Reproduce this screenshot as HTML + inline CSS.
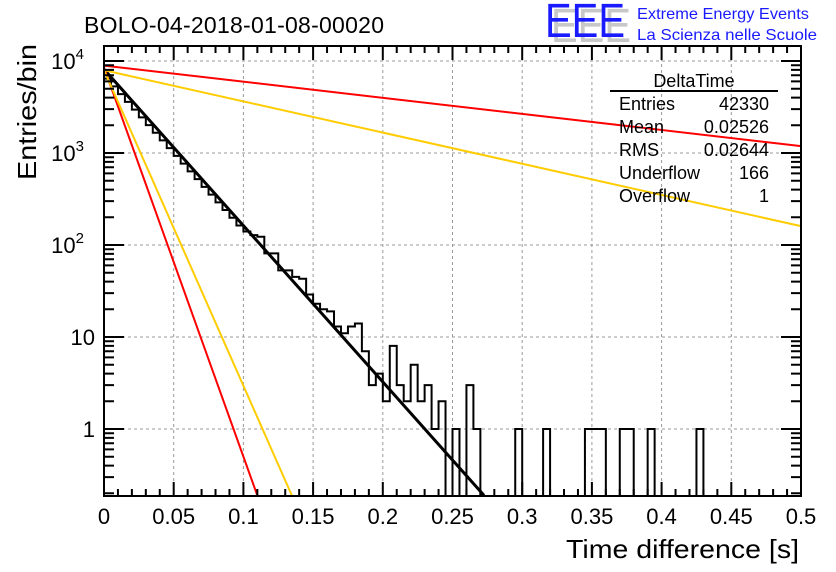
<!DOCTYPE html>
<html><head><meta charset="utf-8"><style>
body{margin:0;background:#fff;}
svg{display:block;font-family:"Liberation Sans",sans-serif;}
</style></head><body>
<svg id="c" width="836" height="572" viewBox="0 0 836 572">
<rect width="836" height="572" fill="#fff"/>
<text x="84" y="33" font-size="23" fill="#000" textLength="300">BOLO-04-2018-01-08-00020</text>
<g>
<text x="551" y="42" font-size="48" fill="#c8c8c8" textLength="80" lengthAdjust="spacingAndGlyphs">EEE</text>
<text x="545" y="37" font-size="48" fill="#1a1aff" textLength="80" lengthAdjust="spacingAndGlyphs">EEE</text>
<text x="637" y="19" font-size="16" fill="#1a1aff" textLength="172" lengthAdjust="spacingAndGlyphs">Extreme Energy Events</text>
<text x="637" y="40" font-size="16" fill="#1a1aff" textLength="180" lengthAdjust="spacingAndGlyphs">La Scienza nelle Scuole</text>
</g>
<g id="grid"></g>
<g id="hist"></g>
<g id="fits"></g>
<g id="axes"></g>
<g font-size="18">
<text x="694" y="87" text-anchor="middle">DeltaTime</text>
<line x1="610" y1="91" x2="778" y2="91" stroke="#000" stroke-width="2"/>
<text x="619" y="110">Entries</text><text x="769" y="110" text-anchor="end">42330</text>
<text x="619" y="133">Mean</text><text x="769" y="133" text-anchor="end">0.02526</text>
<text x="619" y="156">RMS</text><text x="769" y="156" text-anchor="end">0.02644</text>
<text x="619" y="179">Underflow</text><text x="769" y="179" text-anchor="end">166</text>
<text x="619" y="202">Overflow</text><text x="769" y="202" text-anchor="end">1</text>
</g>
<text x="566" y="558" font-size="26" textLength="233" lengthAdjust="spacingAndGlyphs">Time difference [s]</text>
<text transform="translate(36,180) rotate(-90)" font-size="26" textLength="136" lengthAdjust="spacingAndGlyphs">Entries/bin</text>
</svg>
<script>
const binWidth = 0.005;
const counts = [6430,5300,4365,3600,2965,2440,2010,1660,1370,1130,930,766,631,520,429,353,291,240,198,163,140,128,123,81,81,53,53,45,43,29,23,20,19,13,11,13,14,7,3,4,2,8,3,2,5,2,3,1,2,0,1,0,3,1,0,0,0,0,0,1,0,0,0,1,0,0,0,0,0,1,1,1,0,0,1,1,0,0,1,0,0,0,0,0,0,1,0,0,0,0,0,0,0,0,0,0,0,0,0,0];
const fitNames = ['fit-black','fit-red-steep','fit-yellow-steep','fit-red-shallow','fit-yellow-shallow'];
const fitLog0 = [3.91,3.93,3.90,3.95,3.90];
const fitSlope = [-16.99,-42.3,-34.3,-1.75,-3.39];
const fitColor = ['#000','#ff0000','#ffcc00','#ff0000','#ffcc00'];
const xTicks = [0,0.05,0.1,0.15,0.2,0.25,0.3,0.35,0.4,0.45,0.5];
const xTickLabels = ['0','0.05','0.1','0.15','0.2','0.25','0.3','0.35','0.4','0.45','0.5'];
const yDecades = [0,1,2,3,4];

const L=104,R=801,T=46,B=496;
const X=v=>L+(v/0.5)*(R-L);
const yLog1=429, pxDec=92;
const Ylog=l=>yLog1-l*pxDec;
const Y=v=>Ylog(Math.log10(v));
const NS='http://www.w3.org/2000/svg';
function mk(tag,attrs,parent){const e=document.createElementNS(NS,tag);for(const k in attrs)e.setAttribute(k,attrs[k]);parent.appendChild(e);return e;}
const grid=document.getElementById('grid'),axes=document.getElementById('axes'),fits=document.getElementById('fits'),hist=document.getElementById('hist');

xTicks.forEach((t,i)=>{
  if(i>0&&i<xTicks.length-1){const g=mk('line',{x1:X(t),x2:X(t),y1:T,y2:B,stroke:'#999','stroke-dasharray':'3,3'},grid);
  
  }
  const lb=mk('text',{x:X(t),y:524,'font-size':22,'text-anchor':'middle'},axes);lb.textContent=xTickLabels[i];
  
  
});
yDecades.forEach(d=>{
  const y=Ylog(d);
  const g=mk('line',{x1:L,x2:R,y1:y,y2:y,stroke:'#999','stroke-dasharray':'3,3'},grid);
  
  
  const lb=mk('text',{x:d>=2?84:95,y:y+8,'font-size':22,'text-anchor':'end'},axes);
  
  
  if(d<2) lb.textContent=String(Math.pow(10,d));
  else {lb.textContent='10';const s=mk('tspan',{dy:-10,'font-size':15},lb);s.textContent=String(d);}
});
let d='';
counts.forEach((c,i)=>{
  const y=c>0?Math.min(B,Y(c)):B;
  const x0=X(i*binWidth),x1=X((i+1)*binWidth);
  d+=(i===0?`M${x0},${y}`:`L${x0},${y}`)+`L${x1},${y}`;
});
const hp=mk('path',{d:d,fill:'none',stroke:'#000','stroke-width':2},hist);


fitNames.forEach((n,i)=>{
  const xEnd=Math.min(0.5,(Math.log10(0.19)-fitLog0[i])/fitSlope[i]);
  const ln=mk('line',{x1:X(0),y1:Ylog(fitLog0[i]),x2:X(xEnd),y2:Ylog(fitLog0[i]+fitSlope[i]*xEnd),stroke:fitColor[i],'stroke-width':i===0?3:2},fits);
  
  
});
const fr=mk('rect',{x:L,y:T,width:R-L,height:B-T,fill:'none',stroke:'#000','stroke-width':2},axes);


let td='';
for(let k=0;k<=50;k++){const x=X(k*0.01);const len=(k%5===0)?14:7;td+=`M${x},${B}V${B-len}M${x},${T}V${T+len}`;}
for(let dd=-1;dd<=4;dd++){for(let m=1;m<=9;m++){const y=Ylog(dd+Math.log10(m));if(y<T||y>B)continue;const len=m===1?20:10;td+=`M${L},${y}H${L+len}M${R},${y}H${R-len}`;}}
const tk=mk('path',{d:td,stroke:'#000','stroke-width':2,fill:'none'},axes);


</script>
</body></html>
